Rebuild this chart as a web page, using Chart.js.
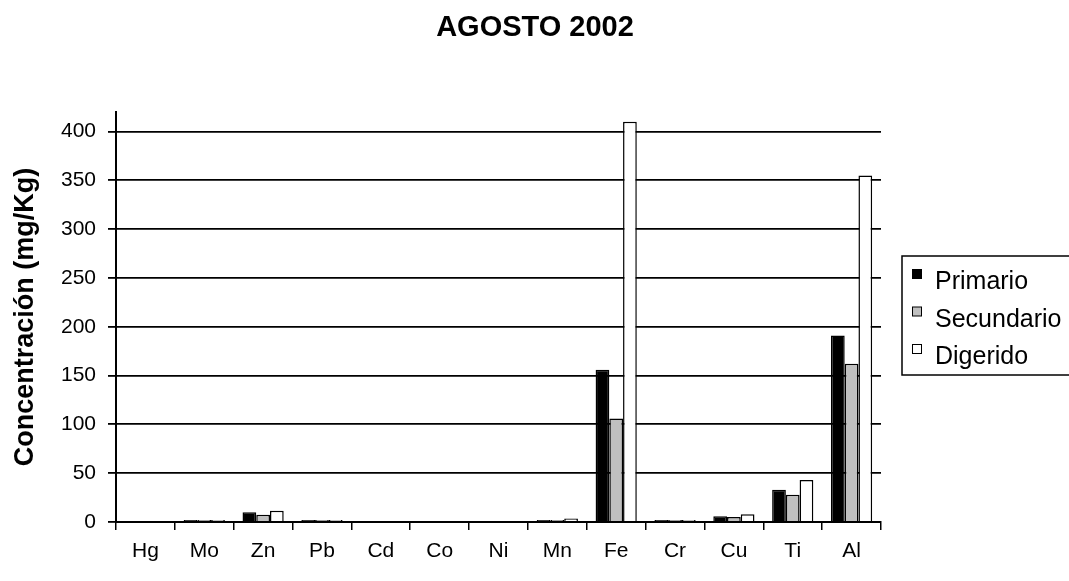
<!DOCTYPE html>
<html>
<head>
<meta charset="utf-8">
<script src="https://cdn.jsdelivr.net/npm/chart.js@4.4.0/dist/chart.umd.min.js"></script>
<style>
  html, body { margin: 0; padding: 0; background: #fff; }
  #wrap { width: 1069px; height: 581px; }
</style>
</head>
<body>
<div id="wrap"><canvas id="chart" width="1069" height="581"></canvas></div>
<script>
const elementos = ['Hg', 'Mo', 'Zn', 'Pb', 'Cd', 'Co', 'Ni', 'Mn', 'Fe', 'Cr', 'Cu', 'Ti', 'Al'];
const primario   = [0, 2, 10, 2, 0, 0, 0, 2, 156, 2, 6, 33, 191];
const secundario = [0, 2, 7.5, 2, 0, 0, 0, 2, 106, 2, 5, 28, 162];
const digerido   = [0, 2, 11.5, 2, 0, 0, 0, 3.5, 410, 2, 8, 43, 355];
const yTicks = [0, 50, 100, 150, 200, 250, 300, 350, 400];

const FONT = 'Arial, "Liberation Sans", sans-serif';

// titulo centrado en todo el lienzo + leyenda con recuadro
const extras = {
  id: 'extras',
  afterDraw(chart) {
    const ctx = chart.ctx;
    ctx.save();
    ctx.fillStyle = '#000';
    ctx.font = 'bold 29px ' + FONT;
    ctx.textAlign = 'center';
    ctx.textBaseline = 'middle';
    ctx.fillText('AGOSTO 2002', 535, 28);

    ctx.textAlign = 'left';
    ctx.textBaseline = 'alphabetic';
    ctx.lineWidth = 1.5;
    ctx.strokeStyle = '#000';
    ctx.strokeRect(902, 256, 200, 119);
    ctx.font = '25px ' + FONT;
    chart.data.datasets.forEach((ds, i) => {
      const y = 289 + i * 37.5;
      ctx.fillStyle = ds.backgroundColor;
      ctx.fillRect(912.5, y - 19.5, 9, 9);
      ctx.lineWidth = 1;
      ctx.strokeRect(912.5, y - 19.5, 9, 9);
      ctx.fillStyle = '#000';
      ctx.fillText(ds.label, 935, y);
    });
    ctx.restore();
  }
};

new Chart(document.getElementById('chart'), {
  type: 'bar',
  data: {
    labels: elementos,
    datasets: [
      { label: 'Primario', data: primario, backgroundColor: '#000000' },
      { label: 'Secundario', data: secundario, backgroundColor: '#c0c0c0' },
      { label: 'Digerido', data: digerido, backgroundColor: '#ffffff' }
    ]
  },
  options: {
    responsive: false,
    animation: false,
    layout: { padding: { left: 0, right: 188, top: 112, bottom: 0 } },
    datasets: {
      bar: {
        borderColor: '#000',
        borderWidth: 1.5,
        borderSkipped: 'bottom',
        categoryPercentage: 0.7,
        barPercentage: 1
      }
    },
    plugins: {
      legend: { display: false },
      tooltip: { enabled: false }
    },
    scales: {
      x: {
        afterFit: s => { s.height = 59; },
        grid: { drawOnChartArea: false, offset: true, tickLength: 8, color: '#000', lineWidth: 1.5 },
        border: { color: '#000', width: 2 },
        ticks: { color: '#000', padding: 9, font: { family: FONT, size: 21 } }
      },
      y: {
        min: 0,
        max: 420,
        afterFit: s => { s.width = 116; },
        afterBuildTicks: s => { s.ticks = yTicks.map(v => ({ value: v })); },
        grid: { color: '#000', lineWidth: 1.8, tickLength: 8 },
        border: { color: '#000', width: 2 },
        ticks: { color: '#000', padding: 12, font: { family: FONT, size: 21 } },
        title: {
          display: true,
          text: 'Concentración (mg/Kg)',
          color: '#000',
          font: { family: FONT, size: 27, weight: 'bold' },
          padding: { top: 9, bottom: 0 }
        }
      }
    }
  },
  plugins: [extras]
});
</script>
</body>
</html>
